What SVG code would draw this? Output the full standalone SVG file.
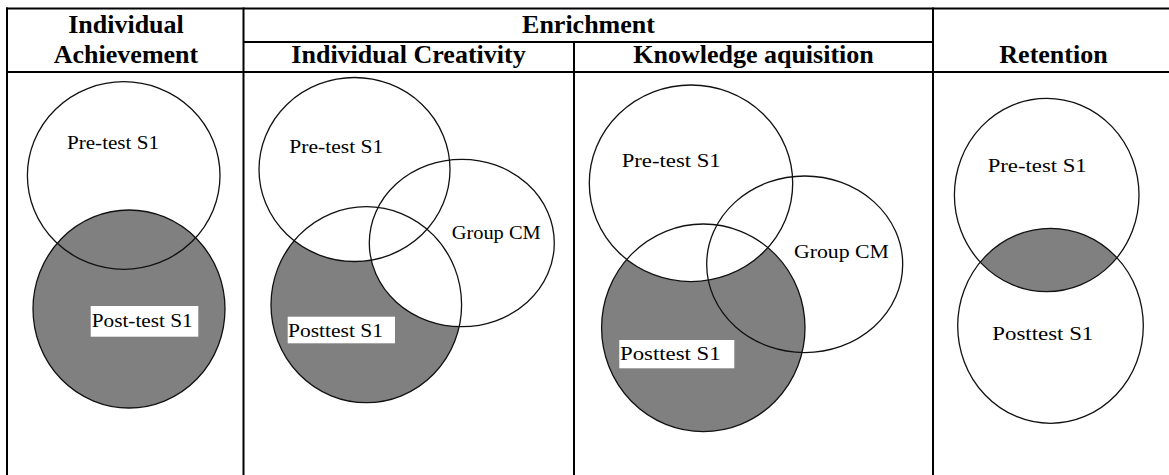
<svg xmlns="http://www.w3.org/2000/svg" width="1169" height="475" viewBox="0 0 1169 475">
  <style>
    .grid { stroke: #000; stroke-width: 2; fill: none; }
    .hdr { font-family: "Liberation Serif", "Times New Roman", serif; font-weight: bold; font-size: 26px; fill: #000; text-anchor: middle; }
    .set { fill: none; stroke: #111; stroke-width: 1.3; }
    .shade { fill: #808080; }
    .lbl { font-family: "Liberation Serif", "Times New Roman", serif; font-size: 19px; fill: #000; }
    .lblbox { fill: #fff; }
  </style>
  <defs>
    <mask id="m2" maskUnits="userSpaceOnUse" x="0" y="0" width="1169" height="475">
      <ellipse cx="366.3" cy="304.7" rx="95.3" ry="98" fill="#fff"/>
      <ellipse cx="354.5" cy="169.5" rx="95.5" ry="92" fill="#000"/>
      <ellipse cx="461.8" cy="243" rx="92.5" ry="83.7" fill="#000"/>
    </mask>
    <mask id="m3" maskUnits="userSpaceOnUse" x="0" y="0" width="1169" height="475">
      <ellipse cx="703.3" cy="327.8" rx="101.7" ry="103.8" fill="#fff"/>
      <ellipse cx="691" cy="183.3" rx="101.7" ry="98.3" fill="#000"/>
    </mask>
    <clipPath id="c4">
      <ellipse cx="1046.7" cy="195" rx="92.3" ry="96.7"/>
    </clipPath>
  </defs>
  <rect x="0" y="0" width="1169" height="475" fill="#fff"/>

  <g id="table-grid" class="grid">
    <line x1="6" y1="8.5" x2="1169" y2="8.5"/>
    <line x1="243" y1="42" x2="933" y2="42"/>
    <line x1="6" y1="72" x2="1169" y2="72"/>
    <line x1="7" y1="7.5" x2="7" y2="475"/>
    <line x1="243.5" y1="7.5" x2="243.5" y2="475"/>
    <line x1="574" y1="42" x2="574" y2="475"/>
    <line x1="933" y1="7.5" x2="933" y2="475"/>
  </g>

  <g id="headers">
    <text class="hdr" x="126" y="33">Individual</text>
    <text class="hdr" x="126" y="63">Achievement</text>
    <text class="hdr" x="588.5" y="33">Enrichment</text>
    <text class="hdr" x="408.5" y="63">Individual Creativity</text>
    <text class="hdr" x="753.5" y="63">Knowledge aquisition</text>
    <text class="hdr" x="1053.5" y="63">Retention</text>
  </g>

  <g id="panel-individual-achievement">
    <ellipse class="shade" cx="129" cy="309" rx="96" ry="99"/>
    <g id="p1-pretest">
      <ellipse class="set" cx="123.7" cy="175.5" rx="96.3" ry="93.8"/>
      <text class="lbl" x="67" y="149" textLength="92" lengthAdjust="spacingAndGlyphs">Pre-test S1</text>
    </g>
    <g id="p1-posttest">
      <ellipse class="set" cx="129" cy="309" rx="96" ry="99"/>
      <rect class="lblbox" x="90.7" y="306" width="107.6" height="30.7"/>
      <text class="lbl" x="91.7" y="326.7" textLength="101" lengthAdjust="spacingAndGlyphs">Post-test S1</text>
    </g>
  </g>

  <g id="panel-individual-creativity">
    <rect class="shade" x="243" y="72" width="331" height="403" mask="url(#m2)"/>
    <g id="p2-pretest">
      <ellipse class="set" cx="354.5" cy="169.5" rx="95.5" ry="92"/>
      <text class="lbl" x="289.3" y="152.5" textLength="94" lengthAdjust="spacingAndGlyphs">Pre-test S1</text>
    </g>
    <g id="p2-groupcm">
      <ellipse class="set" cx="461.8" cy="243" rx="92.5" ry="83.7"/>
      <text class="lbl" x="451.7" y="238.5" textLength="89" lengthAdjust="spacingAndGlyphs">Group CM</text>
    </g>
    <g id="p2-posttest">
      <ellipse class="set" cx="366.3" cy="304.7" rx="95.3" ry="98"/>
      <rect class="lblbox" x="287.7" y="316.7" width="107.3" height="26.6"/>
      <text class="lbl" x="288" y="336.7" textLength="95" lengthAdjust="spacingAndGlyphs">Posttest S1</text>
    </g>
  </g>

  <g id="panel-knowledge-aquisition">
    <rect class="shade" x="574" y="72" width="359" height="403" mask="url(#m3)"/>
    <g id="p3-pretest">
      <ellipse class="set" cx="691" cy="183.3" rx="101.7" ry="98.3"/>
      <text class="lbl" x="621.7" y="166.7" textLength="99" lengthAdjust="spacingAndGlyphs">Pre-test S1</text>
    </g>
    <g id="p3-groupcm">
      <ellipse class="set" cx="804.7" cy="264.3" rx="98" ry="88.3"/>
      <text class="lbl" x="794" y="258.3" textLength="95" lengthAdjust="spacingAndGlyphs">Group CM</text>
    </g>
    <g id="p3-posttest">
      <ellipse class="set" cx="703.3" cy="327.8" rx="101.7" ry="103.8"/>
      <rect class="lblbox" x="619.3" y="340" width="115" height="28.3"/>
      <text class="lbl" x="620" y="360" textLength="100.7" lengthAdjust="spacingAndGlyphs">Posttest S1</text>
    </g>
  </g>

  <g id="panel-retention">
    <ellipse class="shade" cx="1050.5" cy="325.8" rx="92.8" ry="97.5" clip-path="url(#c4)"/>
    <g id="p4-pretest">
      <ellipse class="set" cx="1046.7" cy="195" rx="92.3" ry="96.7"/>
      <text class="lbl" x="987.7" y="171.7" textLength="99" lengthAdjust="spacingAndGlyphs">Pre-test S1</text>
    </g>
    <g id="p4-posttest">
      <ellipse class="set" cx="1050.5" cy="325.8" rx="92.8" ry="97.5"/>
      <text class="lbl" x="992.3" y="340" textLength="101" lengthAdjust="spacingAndGlyphs">Posttest S1</text>
    </g>
  </g>

  <g id="connectors"/>
</svg>
